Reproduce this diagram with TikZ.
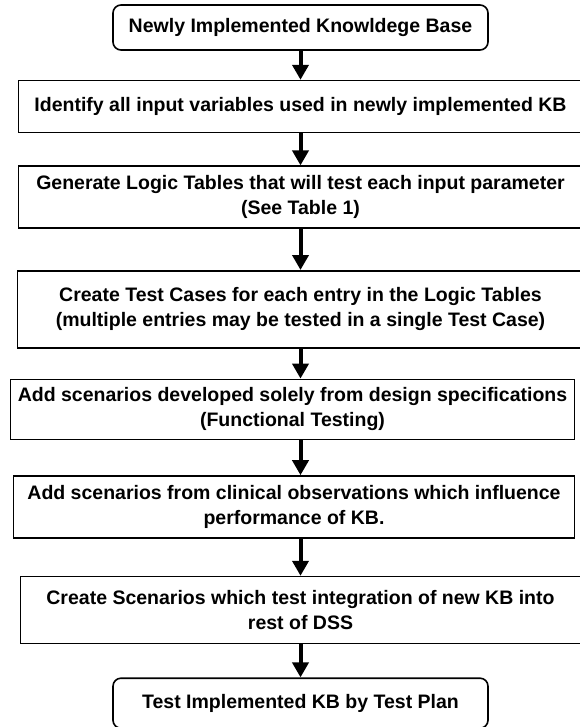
\documentclass[tikz,border=0pt]{standalone}
\usepackage{fontspec}
\setmainfont{Liberation Sans}
\usetikzlibrary{arrows.meta,positioning}

\begin{document}
\begin{tikzpicture}[
  font=\fontsize{19.5}{25}\selectfont\bfseries,
  stepbox/.style={draw=black,line width=1.6pt,rectangle,align=center,inner sep=2pt},
  endbox/.style={stepbox,rounded corners=8pt},
  arr/.style={-{Triangle[width=16pt,length=15pt]},line width=4pt,draw=black}]
\useasboundingbox (0,0) rectangle (579pt,-727pt);
\node[endbox,minimum width=375pt,minimum height=45pt]
  (kb) at (300.5pt,-27.5pt) {Newly Implemented Knowldege Base};
\node[stepbox,minimum width=564pt,minimum height=52pt,below=29pt of kb]
  (identify) {Identify all input variables used in newly implemented KB};
\node[stepbox,minimum width=564pt,minimum height=62pt,below=32pt of identify]
  (logic) {Generate Logic Tables that will test each input parameter\\ (See Table 1)};
\node[stepbox,minimum width=566pt,minimum height=77pt,below=41pt of logic]
  (cases) {Create Test Cases for each entry in the Logic Tables\\
           (multiple entries may be tested in a single Test Case)};
\node[stepbox,minimum width=564pt,minimum height=60pt,below=30pt of cases,xshift=-8pt]
  (functional) {Add scenarios developed solely from design specifications\\
                (Functional Testing)};
\node[stepbox,minimum width=561pt,minimum height=62pt,below=35pt of functional,xshift=1.5pt]
  (clinical) {Add scenarios from clinical observations which influence\\
              performance of KB.};
\node[stepbox,minimum width=560pt,minimum height=67pt,below=37pt of clinical,xshift=6.5pt]
  (integration) {Create Scenarios which test integration of new KB into\\ rest of DSS};
\node[endbox,minimum width=375pt,minimum height=50pt,below=33pt of integration]
  (testplan) {Test Implemented KB by Test Plan};
% arrows all down the middle
\foreach \a/\b in {kb/identify,identify/logic,logic/cases,cases/functional,
                   functional/clinical,clinical/integration,integration/testplan}
  \draw[arr] (kb |- \a.south) -- (kb |- \b.north);
\end{tikzpicture}
\end{document}
